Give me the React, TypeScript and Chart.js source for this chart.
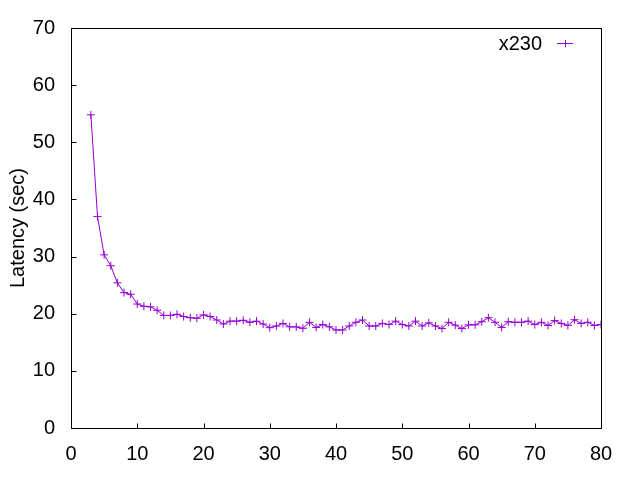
import React, { useEffect, useRef } from "react";
import { Chart, registerables } from "chart.js";

Chart.register(...registerables);

const seriesLabel = "x230";
const xValues = [
  3, 4, 5, 6, 7, 8, 9, 10, 11, 12, 13, 14, 15, 16, 17, 18, 19, 20, 21, 22, 23, 24, 25, 26, 27, 28, 29, 30,
  31, 32, 33, 34, 35, 36, 37, 38, 39, 40, 41, 42, 43, 44, 45, 46, 47, 48, 49, 50, 51, 52, 53, 54, 55, 56, 57,
  58, 59, 60, 61, 62, 63, 64, 65, 66, 67, 68, 69, 70, 71, 72, 73, 74, 75, 76, 77, 78, 79, 80,
];
const latency = [
  54.8, 37.0, 30.3, 28.4, 25.4, 23.7, 23.4, 21.7, 21.3, 21.2, 20.6, 19.7, 19.7, 19.9, 19.5, 19.3, 19.2, 19.8,
  19.5, 18.9, 18.2, 18.7, 18.7, 18.85, 18.5, 18.7, 18.2, 17.55, 17.85, 18.3, 17.7, 17.7, 17.45, 18.5, 17.6,
  18.1, 17.7, 17.15, 17.15, 17.85, 18.5, 18.9, 17.85, 17.85, 18.3, 18.1, 18.7, 18.1, 17.85, 18.7, 17.85, 18.4,
  17.85, 17.4, 18.5, 18.0, 17.4, 18.05, 18.05, 18.6, 19.3, 18.5, 17.6, 18.6, 18.5, 18.5, 18.7, 18.1, 18.5,
  17.95, 18.8, 18.3, 17.95, 18.95, 18.3, 18.5, 17.95, 18.1,
];
const xTicks = [0, 10, 20, 30, 40, 50, 60, 70, 80];
const yTicks = [0, 10, 20, 30, 40, 50, 60, 70];
const yTitle = "Latency (sec)";

const lineColor = "#9400D3";
const fontFamily = "'Liberation Sans', Arial, sans-serif";
const fontSize = 20;

export default function App() {
  const ref = useRef<HTMLCanvasElement | null>(null);

  useEffect(() => {
    document.body.style.margin = "0";
    const canvas = ref.current;
    if (!canvas) return;

    const framePlugin = {
      id: "frame",
      afterDraw(chart: any) {
        const { ctx, chartArea } = chart;
        const xs = chart.scales.x;
        const ys = chart.scales.y;
        ctx.save();
        ctx.strokeStyle = "#000";
        ctx.lineWidth = 1;
        const l = Math.round(chartArea.left) + 0.5;
        const r = Math.round(chartArea.right) + 0.5;
        const t = Math.round(chartArea.top) + 0.5;
        const b = Math.round(chartArea.bottom) + 0.5;
        ctx.strokeRect(l, t, r - l, b - t);
        ctx.beginPath();
        xTicks.forEach((v) => {
          const px = Math.round(xs.getPixelForValue(v)) + 0.5;
          ctx.moveTo(px, b);
          ctx.lineTo(px, b - 5);
        });
        yTicks.forEach((v) => {
          const py = Math.round(ys.getPixelForValue(v)) + 0.5;
          ctx.moveTo(l, py);
          ctx.lineTo(l + 5, py);
        });
        ctx.stroke();

        // legend
        ctx.fillStyle = "#000";
        ctx.font = `${fontSize}px ${fontFamily}`;
        ctx.textAlign = "right";
        ctx.textBaseline = "middle";
        ctx.fillText(seriesLabel, 542, 44);
        ctx.strokeStyle = lineColor;
        ctx.beginPath();
        ctx.moveTo(557, 43.5);
        ctx.lineTo(573, 43.5);
        ctx.moveTo(565.5, 40);
        ctx.lineTo(565.5, 47);
        ctx.stroke();
        ctx.restore();
      },
    };

    const chart = new Chart(canvas, {
      type: "line",
      data: {
        datasets: [
          {
            label: seriesLabel,
            data: xValues.map((x, i) => ({ x, y: latency[i] })),
            borderColor: lineColor,
            backgroundColor: lineColor,
            borderWidth: 1,
            pointStyle: "cross",
            pointRadius: 4,
            pointBorderWidth: 1,
            pointBorderColor: lineColor,
            tension: 0,
            fill: false,
          },
        ],
      },
      options: {
        responsive: false,
        animation: false,
        layout: { padding: { left: 0, top: 27, right: 39, bottom: 0 } },
        plugins: { legend: { display: false }, tooltip: { enabled: false } },
        scales: {
          x: {
            type: "linear",
            min: 0,
            max: 80,
            afterFit(scale: any) {
              scale.height = 52;
            },
            afterBuildTicks(scale: any) {
              scale.ticks = xTicks.map((v) => ({ value: v }));
            },
            grid: { display: false, drawTicks: false },
            border: { display: false },
            ticks: {
              color: "#000",
              padding: 14,
              maxRotation: 0,
              font: { family: fontFamily, size: fontSize },
            },
          },
          y: {
            type: "linear",
            min: 0,
            max: 70,
            afterFit(scale: any) {
              scale.width = 71;
            },
            afterBuildTicks(scale: any) {
              scale.ticks = yTicks.map((v) => ({ value: v }));
            },
            grid: { display: false, drawTicks: false },
            border: { display: false },
            title: {
              display: true,
              text: yTitle,
              color: "#000",
              padding: { top: 6, bottom: 0 },
              font: { family: fontFamily, size: fontSize },
            },
            ticks: {
              color: "#000",
              padding: 16,
              font: { family: fontFamily, size: fontSize },
            },
          },
        },
      },
      plugins: [framePlugin],
    });
    return () => chart.destroy();
  }, []);

  return (
    <div style={{ position: "absolute", left: 0, top: 0, width: 640, height: 480, background: "#fff" }}>
      <canvas ref={ref} width={640} height={480} style={{ display: "block" }} />
    </div>
  );
}
